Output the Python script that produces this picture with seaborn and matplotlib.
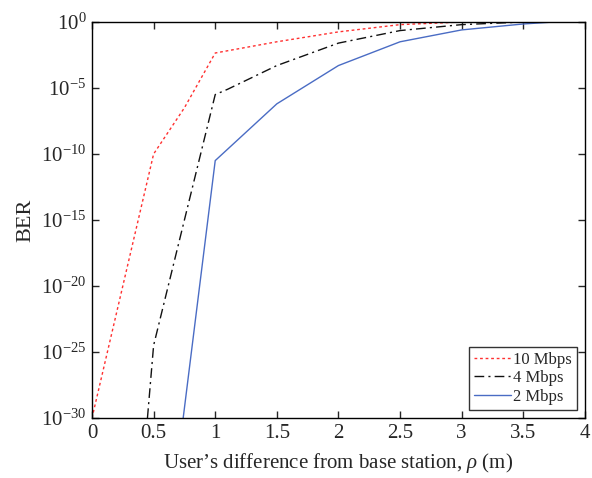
import numpy as np
import pandas as pd
import matplotlib
matplotlib.use('Agg')
import matplotlib.pyplot as plt
import seaborn as sns

# distance from base station (m) and BER (log10 values)
x_10 = [0.0, 0.5, 0.75, 1.0, 1.5, 2.0, 2.5, 3.0]
ber_10 = [-30.0, -10.0, -6.5, -2.35, -1.5, -0.75, -0.2, 0.0]

x_4 = [0.45, 0.5, 1.0, 1.1, 1.5, 2.0, 2.5, 3.0, 3.5]
ber_4 = [-30.0, -24.5, -5.5, -5.1, -3.3, -1.6, -0.65, -0.2, 0.0]

x_2 = [0.74, 1.0, 1.5, 2.0, 2.5, 3.0, 3.5, 3.75]
ber_2 = [-30.0, -10.5, -6.2, -3.3, -1.5, -0.6, -0.15, 0.0]

labels = ['10 Mbps', '4 Mbps', '2 Mbps']
colors = ['#ff3030', '#111111', '#4a6cc4']

sns.set_theme(style='ticks')
plt.rcParams['font.family'] = ['Liberation Serif', 'DejaVu Serif']
plt.rcParams['mathtext.fontset'] = 'custom'
plt.rcParams['mathtext.rm'] = 'Liberation Serif'
plt.rcParams['mathtext.it'] = 'Liberation Serif:italic'

fig = plt.figure(figsize=(5.92, 4.78), dpi=100)
ax = fig.add_axes([0.1554, 0.1255, 0.8326, 0.8285])

frames = []
for lab, xs, ys in zip(labels, [x_10, x_4, x_2], [ber_10, ber_4, ber_2]):
    frames.append(pd.DataFrame({'rho': xs, 'BER': np.power(10.0, ys), 'rate': lab}))
df = pd.concat(frames, ignore_index=True)

sns.lineplot(data=df, x='rho', y='BER', hue='rate', style='rate',
             hue_order=labels, style_order=labels,
             palette=dict(zip(labels, colors)),
             dashes={'10 Mbps': (2, 2), '4 Mbps': (7, 3, 1.5, 3), '2 Mbps': ''},
             linewidth=1.0, sort=False, estimator=None, ax=ax)

ax.set_yscale('log')
ax.set_xlim(0, 4)
ax.set_ylim(1e-30, 1e0)
ax.set_yticks([10.0**k for k in range(-30, 1, 5)])
ax.set_yticklabels([r'$10^{%d}$' % k for k in range(-30, 1, 5)])
ax.minorticks_off()
ax.set_xticks(np.arange(0, 4.01, 0.5))
ax.set_xticklabels(['0', '0.5', '1', '1.5', '2', '2.5', '3', '3.5', '4'])
ax.tick_params(direction='in', top=True, right=True, labelsize=15, length=5, width=1, pad=4)
for s in ax.spines.values():
    s.set_linewidth(1.0)
    s.set_color('black')

ax.set_xlabel(r"User’s difference from base station, $\it{\rho}$ (m)", fontsize=15, labelpad=6)
ax.set_ylabel('BER', fontsize=16, labelpad=4)

leg = ax.legend(loc='lower right', fontsize=12, frameon=True, fancybox=False,
                edgecolor='black', handlelength=2.2, handletextpad=0.1,
                borderpad=0.3, labelspacing=0.15, borderaxespad=0.5)
leg.get_frame().set_linewidth(1.0)

fig.savefig('out.png', dpi=100)
